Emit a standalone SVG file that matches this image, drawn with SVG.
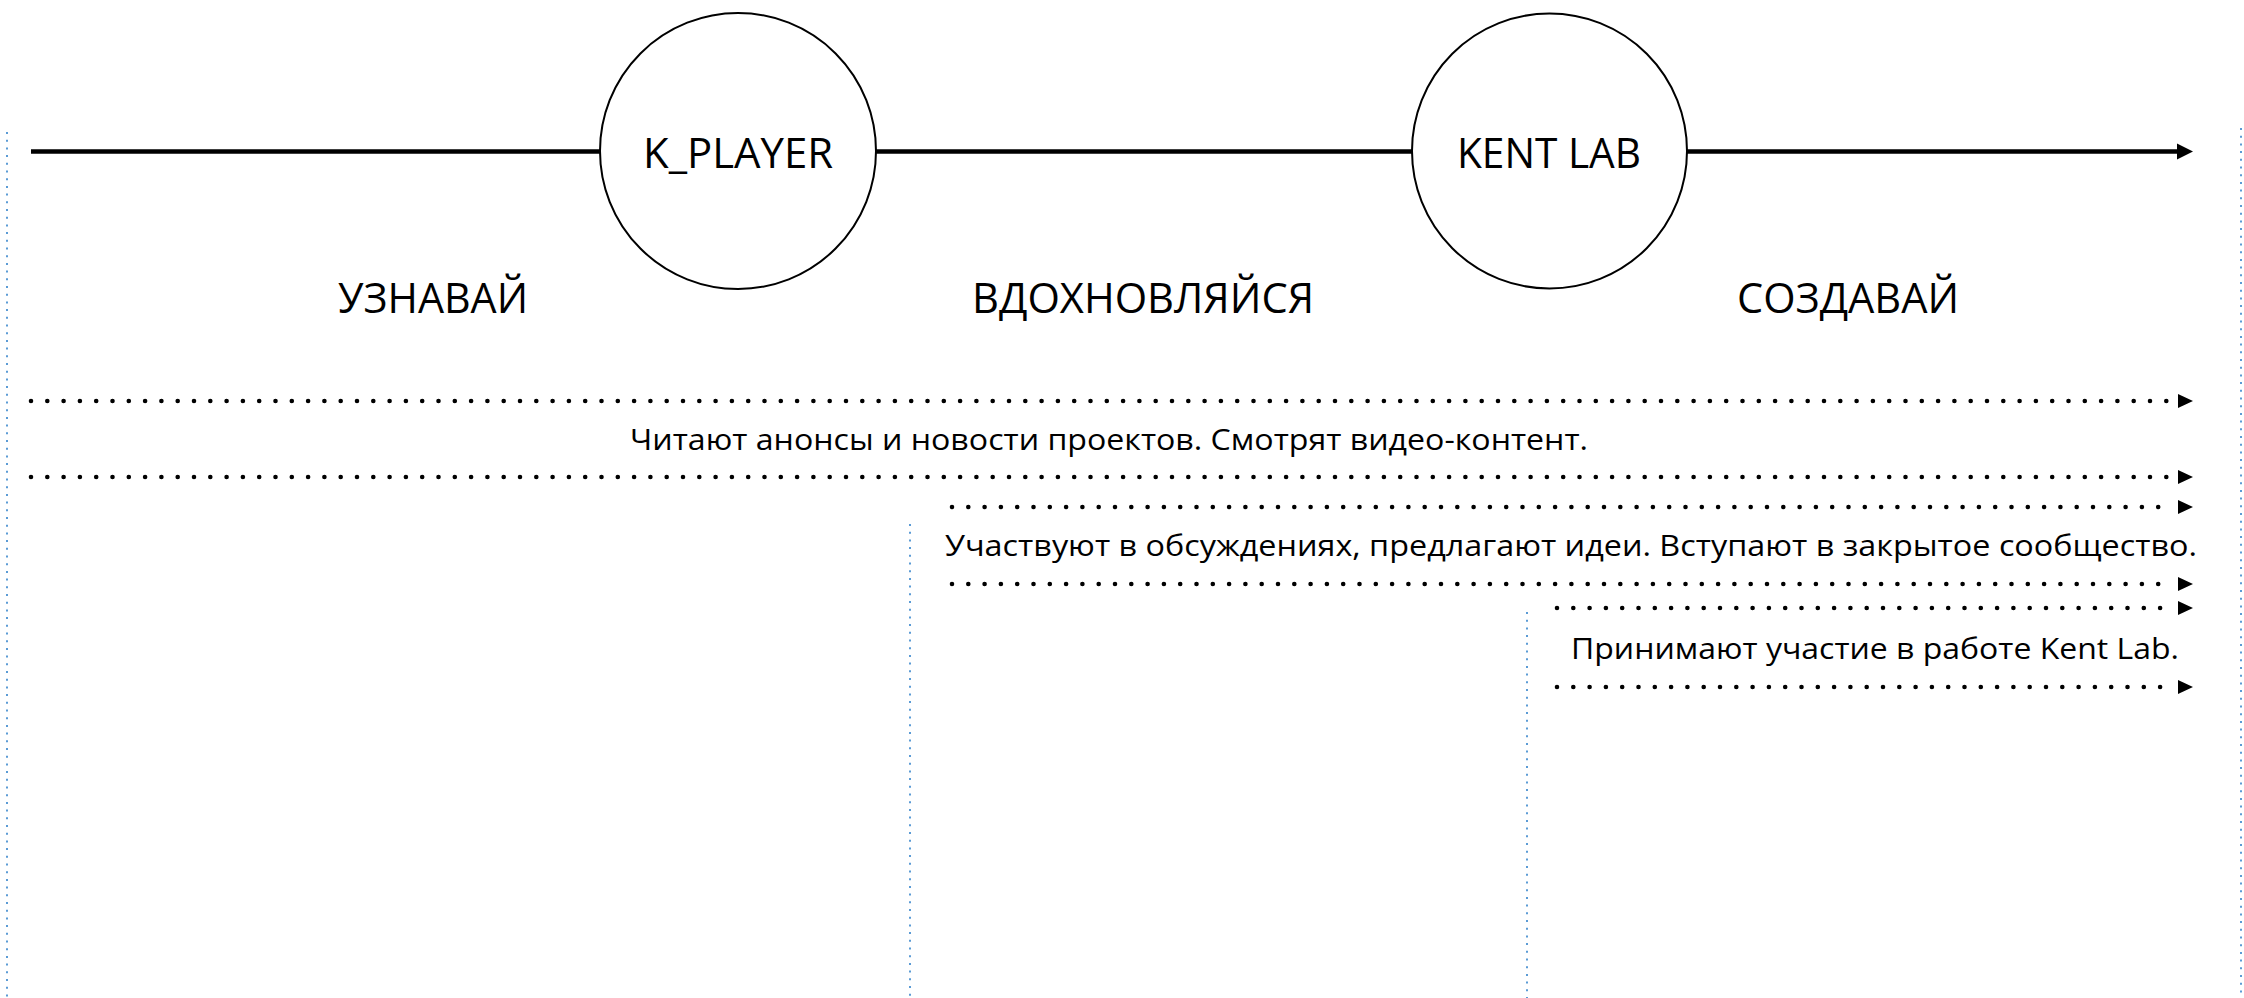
<svg xmlns="http://www.w3.org/2000/svg" width="2244" height="998" viewBox="0 0 2244 998">
<style>
.bg{fill:#ffffff}
.main{stroke:#000;stroke-width:4.5;fill:none}
.node{fill:#ffffff;stroke:#000;stroke-width:2}
.dots{stroke:#000;stroke-width:4.6;stroke-linecap:round;stroke-dasharray:0 16.3;fill:none}
.guide{stroke:#5B9BD5;stroke-width:2;stroke-dasharray:2 5.7;fill:none}
.big{font-family:"Open Sans","Liberation Sans",sans-serif;font-size:42px;fill:#000;text-anchor:middle}
.small{font-family:"Open Sans","Liberation Sans",sans-serif;font-size:29px;fill:#000;text-anchor:middle}
.head{fill:#000}
</style>
<rect class="bg" x="0" y="0" width="2244" height="998"/>
<g id="guides">
<line class="guide" x1="7" y1="132" x2="7" y2="998"/>
<line class="guide" x1="910" y1="524" x2="910" y2="998"/>
<line class="guide" x1="1527" y1="612" x2="1527" y2="998"/>
<line class="guide" x1="2241" y1="128" x2="2241" y2="998"/>
</g>
<g id="connectors">
<line class="main" x1="31" y1="151.5" x2="2180" y2="151.5"/>
<polygon class="head" points="2177,143.5 2193,151.5 2177,159.5"/>
<line class="dots" x1="31" y1="401" x2="2172" y2="401"/>
<polygon class="head" points="2178,394 2193,401 2178,408"/>
<line class="dots" x1="31" y1="477" x2="2172" y2="477"/>
<polygon class="head" points="2178,470 2193,477 2178,484"/>
<line class="dots" x1="952" y1="507" x2="2172" y2="507"/>
<polygon class="head" points="2178,500 2193,507 2178,514"/>
<line class="dots" x1="952" y1="584" x2="2172" y2="584"/>
<polygon class="head" points="2178,577 2193,584 2178,591"/>
<line class="dots" x1="1557" y1="608" x2="2172" y2="608"/>
<polygon class="head" points="2178,601 2193,608 2178,615"/>
<line class="dots" x1="1557" y1="687" x2="2172" y2="687"/>
<polygon class="head" points="2178,680 2193,687 2178,694"/>
</g>
<g id="k_player">
<circle class="node" cx="738" cy="151" r="138"/>
<text class="big" x="738" y="168" textLength="190" lengthAdjust="spacingAndGlyphs">K_PLAYER</text>
</g>
<g id="kent_lab">
<circle class="node" cx="1549.5" cy="151" r="137.5"/>
<text class="big" x="1549" y="168" textLength="184" lengthAdjust="spacingAndGlyphs">KENT LAB</text>
</g>
<g id="stages">
<text class="big" x="433" y="313" textLength="190" lengthAdjust="spacingAndGlyphs">УЗНАВАЙ</text>
<text class="big" x="1143" y="313" textLength="342" lengthAdjust="spacingAndGlyphs">ВДОХНОВЛЯЙСЯ</text>
<text class="big" x="1848" y="313" textLength="222" lengthAdjust="spacingAndGlyphs">СОЗДАВАЙ</text>
</g>
<g id="descriptions">
<text class="small" x="1109" y="450" textLength="958" lengthAdjust="spacingAndGlyphs">Читают анонсы и новости проектов. Смотрят видео-контент.</text>
<text class="small" x="1571" y="556" textLength="1252" lengthAdjust="spacingAndGlyphs">Участвуют в обсуждениях, предлагают идеи. Вступают в закрытое сообщество.</text>
<text class="small" x="1875" y="659" textLength="608" lengthAdjust="spacingAndGlyphs">Принимают участие в работе Kent Lab.</text>
</g>
</svg>
